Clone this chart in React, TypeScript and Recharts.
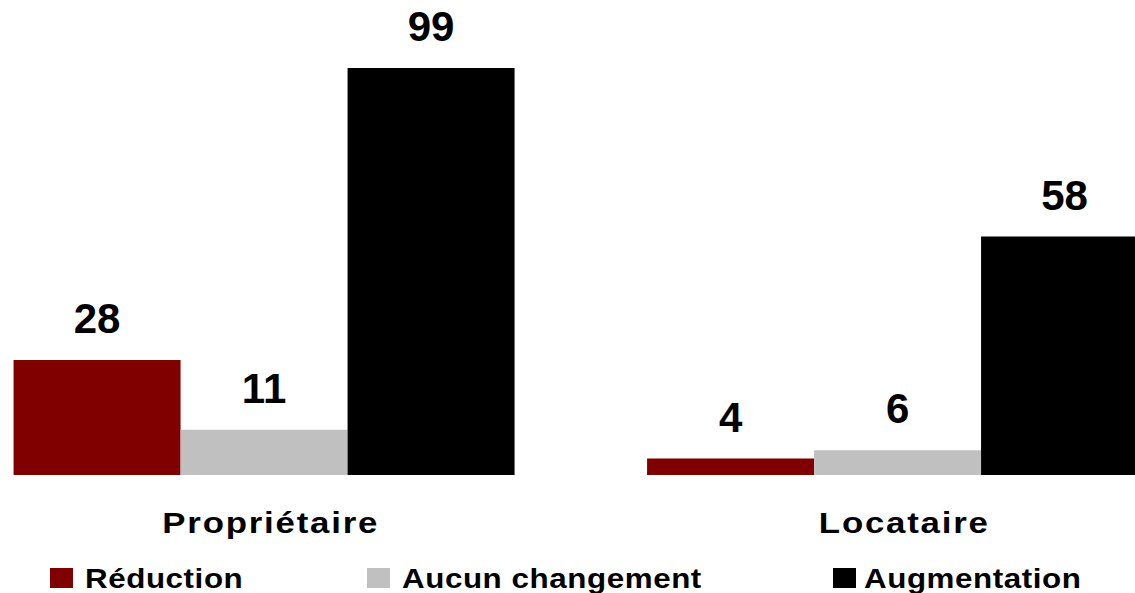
import React from 'react';
import { BarChart, Bar, XAxis, YAxis, LabelList } from 'recharts';

const categories = ['Propriétaire', 'Locataire'];
const reduction = [28, 4];
const aucunChangement = [11, 6];
const augmentation = [99, 58];

const seriesNames = ['Réduction', 'Aucun changement', 'Augmentation'];
const seriesColors = ['#800000', '#C0C0C0', '#000000'];
const seriesKeys = ['reduction', 'aucun', 'augmentation'];

const data = categories.map((name, i) => ({
  name,
  reduction: reduction[i],
  aucun: aucunChangement[i],
  augmentation: augmentation[i],
}));

const FONT = '"Liberation Sans", Arial, sans-serif';

const ValueLabel = (props: any) => {
  const { x, y, width, value } = props;
  return (
    <text
      x={x + width / 2}
      y={y - 27}
      textAnchor="middle"
      fontFamily={FONT}
      fontWeight="bold"
      fontSize={42}
      fill="#000"
    >
      {value}
    </text>
  );
};

const CategoryTick = (props: any) => {
  const { x, y, payload } = props;
  return (
    <g transform={`translate(${x + 6},${y + 58}) scale(1.2,1)`}>
      <text
        x={0}
        y={0}
        textAnchor="middle"
        fontFamily={FONT}
        fontWeight="bold"
        fontSize={29}
        letterSpacing={1.5}
        fill="#000"
      >
        {payload.value}
      </text>
    </g>
  );
};

const legendBoxX = [50, 367, 833];
const legendTextX = [85, 402, 864];

export default function App() {
  return (
    <div
      style={{
        position: 'fixed',
        left: 0,
        top: 0,
        width: 1135,
        height: 593,
        overflow: 'hidden',
        background: '#fff',
      }}
    >
      <div style={{ position: 'absolute', left: -52, top: 0 }}>
        <BarChart
          width={1267}
          height={593}
          data={data}
          margin={{ top: 68, right: 0, left: 0, bottom: 0 }}
          barCategoryGap="10.35%"
          barGap={0}
        >
          <XAxis
            dataKey="name"
            axisLine={false}
            tickLine={false}
            tickSize={0}
            tickMargin={0}
            height={118}
            interval={0}
            tick={<CategoryTick />}
          />
          <YAxis hide domain={[0, 99]} />
          {seriesKeys.map((k, i) => (
            <Bar key={k} dataKey={k} name={seriesNames[i]} fill={seriesColors[i]} isAnimationActive={false}>
              <LabelList dataKey={k} content={<ValueLabel />} />
            </Bar>
          ))}
        </BarChart>
      </div>
      <svg
        width={1135}
        height={593}
        style={{ position: 'absolute', left: 0, top: 0, pointerEvents: 'none' }}
      >
        {seriesNames.map((n, i) => (
          <g key={n}>
            <rect x={legendBoxX[i]} y={568} width={23} height={20} fill={seriesColors[i]} />
            <g transform={`translate(${legendTextX[i]},588) scale(1.12,1)`}>
              <text
                x={0}
                y={0}
                fontFamily={FONT}
                fontWeight="bold"
                fontSize={28}
                letterSpacing={0.5}
                fill="#000"
              >
                {n}
              </text>
            </g>
          </g>
        ))}
      </svg>
    </div>
  );
}
